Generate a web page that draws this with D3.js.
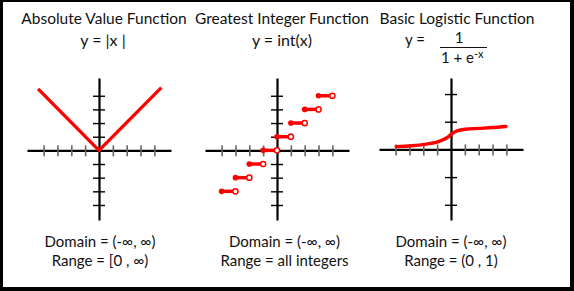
<!DOCTYPE html>
<html>
<head>
<meta charset="utf-8">
<script src="https://cdn.jsdelivr.net/npm/d3@7"></script>
<style>
  body { margin: 0; background: #fff; }
  text { font-family: Lato, "Open Sans", sans-serif; fill: #111; }
</style>
</head>
<body>
<svg width="574" height="291"></svg>
<script>
const titles = ["Absolute Value Function", "Greatest Integer Function", "Basic Logistic Function"];
const formulas = ["y = |x |", "y = int(x)"];
const domainLabels = ["Domain = (-∞, ∞)", "Domain = (-∞, ∞)", "Domain = (-∞, ∞)"];
const rangeLabels = ["Range = [0 , ∞)", "Range = all integers", "Range = (0 , 1)"];

const xTicks = [-4, -3, -2, -1, 1, 2, 3, 4];
const yTicks = [-4, -3, -2, -1, 1, 2, 3, 4];
const yTicksLogistic = [-2, -1, 1, 2];

// absolute value: end points and vertex
const absX = [-4.4, 0, 4.5];
const absY = [4.5, 0, 4.6];

// greatest integer steps: [start, end) at value
const stepStart = [-4, -3, -2, -1, 0, 1, 2, 3];
const stepEnd = [-3, -2, -1, 0, 1, 2, 3, 4];
const stepValue = [-3, -2, -1, 0, 1, 2, 3, 4];

// logistic curve
const logX = [-3.96, -2.87, -1.89, -0.91, -0.29, 0.07, 0.44, 1.05, 2.02, 3.0, 3.97];
const logY = [0.10, 0.13, 0.18, 0.28, 0.42, 0.57, 0.67, 0.73, 0.76, 0.79, 0.83];

const svg = d3.select("svg");
const red = "#f00";

// frame
svg.append("rect").attr("width", 574).attr("height", 291).attr("fill", "#000");
svg.append("rect").attr("x", 3).attr("y", 2).attr("width", 567).attr("height", 285).attr("fill", "#fff");

const panels = [
  { cx: 99, yDomain: [-5.1, 5.3], yTicks: yTicks },
  { cx: 277, yDomain: [-5.1, 5.3], yTicks: yTicks },
  { cx: 451, yDomain: [-2.55, 2.58], yTicks: yTicksLogistic }
];

const scales = panels.map((p) => {
  const x = d3.scaleLinear().domain([-5.2, 5.2]).range([p.cx - 72, p.cx + 72]);
  const y = d3.scaleLinear().domain(p.yDomain).range([220, 78]);

  const gx = svg.append("g")
    .attr("transform", `translate(0,${y(0)})`)
    .call(d3.axisBottom(x).tickValues(xTicks).tickSize(6).tickSizeOuter(0).tickFormat(""));
  gx.select(".domain").attr("stroke", "#000").attr("stroke-width", 2.2);
  gx.selectAll(".tick line").attr("y1", -5).attr("y2", 6)
    .attr("stroke", "#666").attr("stroke-width", 1.6);

  const gy = svg.append("g")
    .attr("transform", `translate(${x(0)},0)`)
    .call(d3.axisLeft(y).tickValues(p.yTicks).tickSize(6).tickSizeOuter(0).tickFormat(""));
  gy.select(".domain").attr("stroke", "#000").attr("stroke-width", 2.2);
  gy.selectAll(".tick line").attr("x1", -6).attr("x2", 6)
    .attr("stroke", "#000").attr("stroke-width", 1.4);

  return { x, y };
});

// panel 1: |x|
{
  const { x, y } = scales[0];
  svg.append("path")
    .datum(absX.map((d, i) => [d, absY[i]]))
    .attr("fill", "none").attr("stroke", red).attr("stroke-width", 3.2)
    .attr("d", d3.line().x((d) => x(d[0])).y((d) => y(d[1])));
}

// panel 2: int(x)
{
  const { x, y } = scales[1];
  const steps = stepStart.map((s, i) => ({ s, e: stepEnd[i], v: stepValue[i] }));
  const g = svg.append("g");
  g.selectAll("line.step").data(steps).enter().append("line")
    .attr("x1", (d) => x(d.s)).attr("x2", (d) => x(d.e))
    .attr("y1", (d) => y(d.v)).attr("y2", (d) => y(d.v))
    .attr("stroke", red).attr("stroke-width", 3.5);
  g.selectAll("circle.filled").data(steps).enter().append("circle")
    .attr("cx", (d) => x(d.s)).attr("cy", (d) => y(d.v)).attr("r", 2.8)
    .attr("fill", red);
  g.selectAll("circle.open").data(steps).enter().append("circle")
    .attr("cx", (d) => x(d.e)).attr("cy", (d) => y(d.v)).attr("r", 2.6)
    .attr("fill", "#fff").attr("stroke", red).attr("stroke-width", 1.5);
}

// panel 3: logistic
{
  const { x, y } = scales[2];
  svg.append("path")
    .datum(logX.map((d, i) => [d, logY[i]]))
    .attr("fill", "none").attr("stroke", red).attr("stroke-width", 3.4)
    .attr("stroke-linecap", "round")
    .attr("d", d3.line().curve(d3.curveCatmullRom).x((d) => x(d[0])).y((d) => y(d[1])));
}

// text
const titleX = [104, 282, 457];
svg.selectAll("text.title").data(titles).enter().append("text")
  .attr("x", (d, i) => titleX[i]).attr("y", 24)
  .attr("text-anchor", "middle").attr("font-size", 15.5).text((d) => d);

const formulaX = [103, 282];
svg.selectAll("text.formula").data(formulas).enter().append("text")
  .attr("x", (d, i) => formulaX[i]).attr("y", 46)
  .attr("text-anchor", "middle").attr("font-size", 16).text((d) => d);

// logistic formula as fraction
svg.append("text").attr("x", 405).attr("y", 45).attr("font-size", 15).text("y =");
svg.append("text").attr("x", 459).attr("y", 43).attr("text-anchor", "middle").attr("font-size", 15).text("1");
svg.append("line").attr("x1", 440).attr("x2", 487).attr("y1", 47.5).attr("y2", 47.5)
  .attr("stroke", "#111").attr("stroke-width", 1);
const den = svg.append("text").attr("x", 441).attr("y", 63).attr("font-size", 15);
den.append("tspan").text("1 + e");
den.append("tspan").attr("dy", -5).attr("font-size", 11).text("-x");

const infoX = [100, 284.5, 451];
svg.selectAll("text.domainlbl").data(domainLabels).enter().append("text")
  .attr("x", (d, i) => infoX[i]).attr("y", 247)
  .attr("text-anchor", "middle").attr("font-size", 15).text((d) => d);
svg.selectAll("text.rangelbl").data(rangeLabels).enter().append("text")
  .attr("x", (d, i) => infoX[i]).attr("y", 266)
  .attr("text-anchor", "middle").attr("font-size", 15).text((d) => d);
</script>
</body>
</html>
